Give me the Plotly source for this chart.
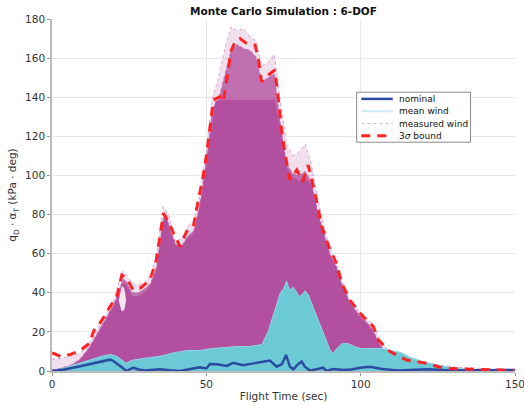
import plotly.graph_objects as go

# ---- data (flight time in seconds, q_D * alpha_T in kPa*deg) ----
# outer envelope of the sparse measured-wind dispersions
fringe_t = [0, 3, 6, 9, 12, 15, 18, 20, 22, 23, 25, 27, 30, 32, 34, 36, 38, 40, 42, 44,
            46, 48, 50, 52, 54, 56, 58, 60, 62, 64, 66, 68, 70, 72, 74, 76, 78, 80, 82,
            84, 86, 88, 90, 92, 94, 96, 98, 100, 102, 104, 106, 108, 110, 114, 120, 126,
            130, 140, 150]
fringe_v = [6, 6.5, 7.5, 9, 14, 22, 30, 36, 47, 51, 47, 44, 45, 49, 60, 84, 79, 66, 68, 74,
            77, 91, 113, 140, 150, 165, 176, 174, 175, 171, 169, 156, 158, 162, 138, 116,
            110, 112, 116, 106, 89, 75, 63, 56, 46, 38, 33, 30, 27, 24, 17, 12, 9.5, 6.5,
            4.5, 2.8, 2, 1.2, 0.8]

# dense band of measured-wind dispersions
dense_t = [0, 3, 6, 9, 12, 15, 18, 20, 22, 23, 24, 26, 28, 30, 32, 34, 36, 37, 38, 40,
           42, 44, 46, 48, 50, 52, 54, 56, 58, 60, 62, 64, 66, 68, 70, 72, 74, 76, 78,
           80, 82, 84, 86, 88, 90, 92, 94, 96, 98, 100, 102, 104, 106, 108, 110, 114,
           120, 126, 130, 140, 150]
dense_v = [0.5, 1.5, 3, 6, 12, 20, 28, 34, 42, 47, 46, 40, 40, 42, 45, 54, 78, 80, 74, 65,
           64, 69, 72, 86, 108, 134, 139, 152, 164, 167, 165, 164, 161, 148, 150, 152,
           126, 106, 101, 100, 102, 97, 82, 71, 60, 54, 44, 37, 32, 28, 25, 21, 14, 10,
           8, 5, 3, 1.5, 1, 0.5, 0.3]

# solid core of measured-wind dispersions
body_t = [0, 3, 6, 9, 12, 15, 18, 20, 22, 23, 24, 26, 28, 30, 32, 34, 36, 37, 38, 40,
          42, 44, 46, 48, 50, 52, 53, 56, 60, 64, 68, 72, 74, 76, 78, 80, 82, 84, 86, 88,
          90, 92, 94, 96, 98, 100, 102, 104, 106, 108, 110, 114, 120, 126, 130, 140, 150]
body_v = [0.3, 1, 2, 5, 11, 19, 27, 33, 40, 45, 44, 38, 38, 40, 44, 52, 76, 78, 72, 64,
          63, 68, 70, 84, 104, 128, 138, 138.5, 138.5, 138.5, 138.5, 138.5, 124, 104, 99,
          97, 99, 95, 80, 69, 59, 53, 43, 36, 31, 27, 24, 20, 13.5, 9.5, 7.5, 4.5, 2.7,
          1.3, 0.9, 0.4, 0.2]

# gap in the dispersions just below the first peak
gap_t = [21.6, 22.0, 22.5, 23.0, 23.5, 24.0]
gap_lo = [36, 33, 31, 30.5, 32, 36]
gap_hi = [36, 39.5, 42.5, 43.5, 41.5, 36.5]

# mean-wind dispersions (upper edge)
mean_t = [0, 4, 8, 12, 16, 19, 21, 24, 26, 30, 35, 40, 44, 48, 52, 56, 60, 64, 68, 70,
          72, 74, 75, 76, 77, 78, 79, 80, 81, 82, 83, 84, 86, 88, 90, 91, 92, 94, 96, 98,
          100, 104, 107, 110, 113, 116, 120, 125, 130, 135, 140, 150]
mean_v = [0.3, 1.5, 3.5, 5.5, 7.5, 8.5, 7.5, 4, 5.5, 6.5, 7.5, 9.5, 10.5, 10.5, 11.5, 12,
          12.5, 12.5, 13.5, 20, 30, 40, 42, 46, 41, 43, 41, 38, 39, 41, 39, 35, 27, 18,
          11, 9, 11, 14, 14, 12.5, 11.5, 11.5, 11.5, 10.5, 9.5, 7, 5, 3, 1.5, 0.8, 0.5,
          0.3]

# nominal trajectory
nom_t = [0, 4, 8, 12, 16, 18.8, 20, 22, 24.2, 26.3, 28, 30, 32, 35, 38, 41.5, 44, 47.9,
         50, 51.2, 53.3, 56.6, 58.7, 61.9, 65.3, 68.5, 70.6, 72.8, 74.5, 75.8, 77.1,
         78.2, 79.8, 80.9, 81.9, 83.6, 86, 87.9, 88.9, 91, 94.5, 97, 99.8, 103, 107, 112,
         116, 121.4, 128, 134, 142, 150]
nom_v = [0, 0.8, 2, 3.3, 4.8, 5.8, 5, 2.5, 0, 1.7, 0.8, 0.3, 0.5, 0.9, 0.4, 0, 0.8, 1.9,
         1.3, 3.6, 3.4, 2.6, 4.2, 3, 3.9, 4.6, 5.3, 2.2, 3.5, 8.2, 2.2, 0.9, 3.6, 4.8, 2.2,
         0.2, 1, 1.7, 0, 1, 0.5, 0.8, 1.7, 2.2, 1, 0.3, 0.5, 0.9, 0.4, 0.3, 0.4, 0.5]

# 3-sigma bound
sig_t = [0, 3.1, 6, 9.1, 12, 13.9, 15.5, 17, 18.8, 21, 22.6, 24.2, 26.3, 28.5, 31.7, 33.7,
         36.1, 37.7, 39.5, 41.5, 43.6, 45.8, 47.4, 48.8, 50.1, 52.3, 54.4, 55.5, 57.1,
         57.9, 59.3, 60.9, 63, 65.8, 66.8, 67.9, 70.1, 72.2, 73.3, 74.4, 75.5, 77.1, 79.3,
         81.2, 83, 85.2, 87.4, 90.1, 92.2, 93.9, 96.5, 100.8, 103, 104.1, 105.7, 109.5,
         114.9, 121.4, 126.8, 135, 142, 150]
sig_v = [9.2, 7.3, 8.5, 10.4, 14, 22, 24.5, 28, 32.9, 38, 49, 47.4, 41.4, 42.3, 46.5, 55.9,
         80.6, 76.4, 70, 63.6, 71.2, 73.8, 87.4, 98, 111, 138.6, 140.3, 137.7, 153.9,
         163.3, 168.4, 170, 167.5, 166.7, 160, 148, 151.4, 153.9, 139.4, 123, 111, 97.7,
         102.8, 96.8, 105.3, 90.9, 73.8, 61.9, 55, 44.8, 36.3, 27.8, 24.5, 22.7, 15.9, 9.9,
         5.6, 3.9, 1.4, 0.9, 0.6, 0.3]

x_ticks = [0, 50, 100, 150]
y_ticks = [0, 20, 40, 60, 80, 100, 120, 140, 160, 180]

# legend labels, top to bottom
legend_names = ["nominal", "mean wind", "measured wind", "3<i>σ</i> bound"]

MAGENTA = "#B24F9F"
CYAN = "#6CC9D6"
BLUE = "#2B4AA2"
RED = "#FF2222"
FONT = "DejaVu Sans, Verdana, sans-serif"

fig = go.Figure()

# sparse measured-wind dispersions
fig.add_trace(go.Scatter(x=fringe_t, y=fringe_v, mode="lines", fill="tozeroy",
                         fillcolor="rgba(178,79,159,0.18)",
                         line=dict(color="rgba(190,110,180,0.55)", width=1, dash="dot"),
                         showlegend=False, hoverinfo="skip"))
# dense measured-wind dispersions
fig.add_trace(go.Scatter(x=dense_t, y=dense_v, mode="lines", fill="tozeroy",
                         fillcolor="rgba(178,79,159,0.78)",
                         line=dict(color="rgba(178,79,159,0.6)", width=1, dash="dot"),
                         showlegend=False, hoverinfo="skip"))
# solid core
fig.add_trace(go.Scatter(x=body_t, y=body_v, mode="lines", fill="tozeroy",
                         fillcolor=MAGENTA, line=dict(color=MAGENTA, width=0.5),
                         showlegend=False, hoverinfo="skip"))
# gap inside the dispersions
fig.add_trace(go.Scatter(x=gap_t, y=gap_lo, mode="lines", line=dict(width=0),
                         showlegend=False, hoverinfo="skip"))
fig.add_trace(go.Scatter(x=gap_t, y=gap_hi, mode="lines", fill="tonexty",
                         fillcolor="rgba(255,255,255,0.85)", line=dict(width=0),
                         showlegend=False, hoverinfo="skip"))
# mean-wind dispersions
fig.add_trace(go.Scatter(x=mean_t, y=mean_v, mode="lines", fill="tozeroy",
                         fillcolor=CYAN, line=dict(color="#8FD8E3", width=1),
                         showlegend=False, hoverinfo="skip"))
# nominal
fig.add_trace(go.Scatter(x=nom_t, y=nom_v, mode="lines", name=legend_names[0],
                         line=dict(color=BLUE, width=2.5), showlegend=False))
# 3-sigma bound
fig.add_trace(go.Scatter(x=sig_t, y=sig_v, mode="lines", name=legend_names[3],
                         line=dict(color=RED, width=3, dash="9px,7px"), showlegend=False))

# compact legend box (paper coordinates)
box_x0, box_x1, box_y0, box_y1 = 0.658, 0.904, 0.650, 0.792
key_x0, key_x1, text_x = 0.668, 0.736, 0.745
row_y = [0.773, 0.738, 0.703, 0.668]
key_styles = [dict(color=BLUE, width=2.5),
              dict(color="#CDEBF2", width=2),
              dict(color="#E3A9DA", width=1, dash="dot"),
              dict(color=RED, width=3, dash="9px,7px")]

shapes = [dict(type="rect", xref="paper", yref="paper", x0=box_x0, x1=box_x1,
               y0=box_y0, y1=box_y1, line=dict(color="#8A8A8A", width=1),
               fillcolor="white", layer="above")]
annotations = []
for name, yy, st in zip(legend_names, row_y, key_styles):
    shapes.append(dict(type="line", xref="paper", yref="paper", x0=key_x0, x1=key_x1,
                       y0=yy, y1=yy, line=st, layer="above"))
    annotations.append(dict(text=name, xref="paper", yref="paper", x=text_x, y=yy,
                            xanchor="left", yanchor="middle", showarrow=False,
                            font=dict(family=FONT, size=9, color="#111111")))

fig.update_layout(
    width=524, height=405,
    margin=dict(l=52, r=9, t=19, b=34, autoexpand=False),
    paper_bgcolor="white", plot_bgcolor="white",
    font=dict(family=FONT, size=10.5, color="#333333"),
    title=dict(text="<b>Monte Carlo Simulation : 6-DOF</b>", x=0.5, xref="paper",
               xanchor="center", y=0.972, yref="container", yanchor="middle",
               font=dict(size=10.5, color="#111111"), automargin=False),
    showlegend=False,
    shapes=shapes,
    annotations=annotations,
)
fig.update_xaxes(range=[0, 150], tickvals=x_ticks, ticks="outside", ticklen=3,
                 tickcolor="#999999", showgrid=True, gridcolor="#E8E8E8",
                 showline=True, linecolor="#BBBBBB", linewidth=1.5, zeroline=False,
                 automargin=False, ticklabeloverflow="allow",
                 title=dict(text="Flight Time (sec)", font=dict(size=10.5), standoff=3),
                 tickfont=dict(size=10.5))
fig.update_yaxes(range=[0, 180], tickvals=y_ticks, ticks="outside", ticklen=3,
                 tickcolor="#999999", showgrid=True, gridcolor="#E8E8E8",
                 showline=True, linecolor="#BBBBBB", linewidth=1.5, zeroline=False,
                 automargin=False,
                 title=dict(text="q<sub>D</sub> · α<sub>T</sub> (kPa · deg)",
                            font=dict(size=10.5), standoff=6),
                 tickfont=dict(size=10.5))

fig.write_html("out.html")
